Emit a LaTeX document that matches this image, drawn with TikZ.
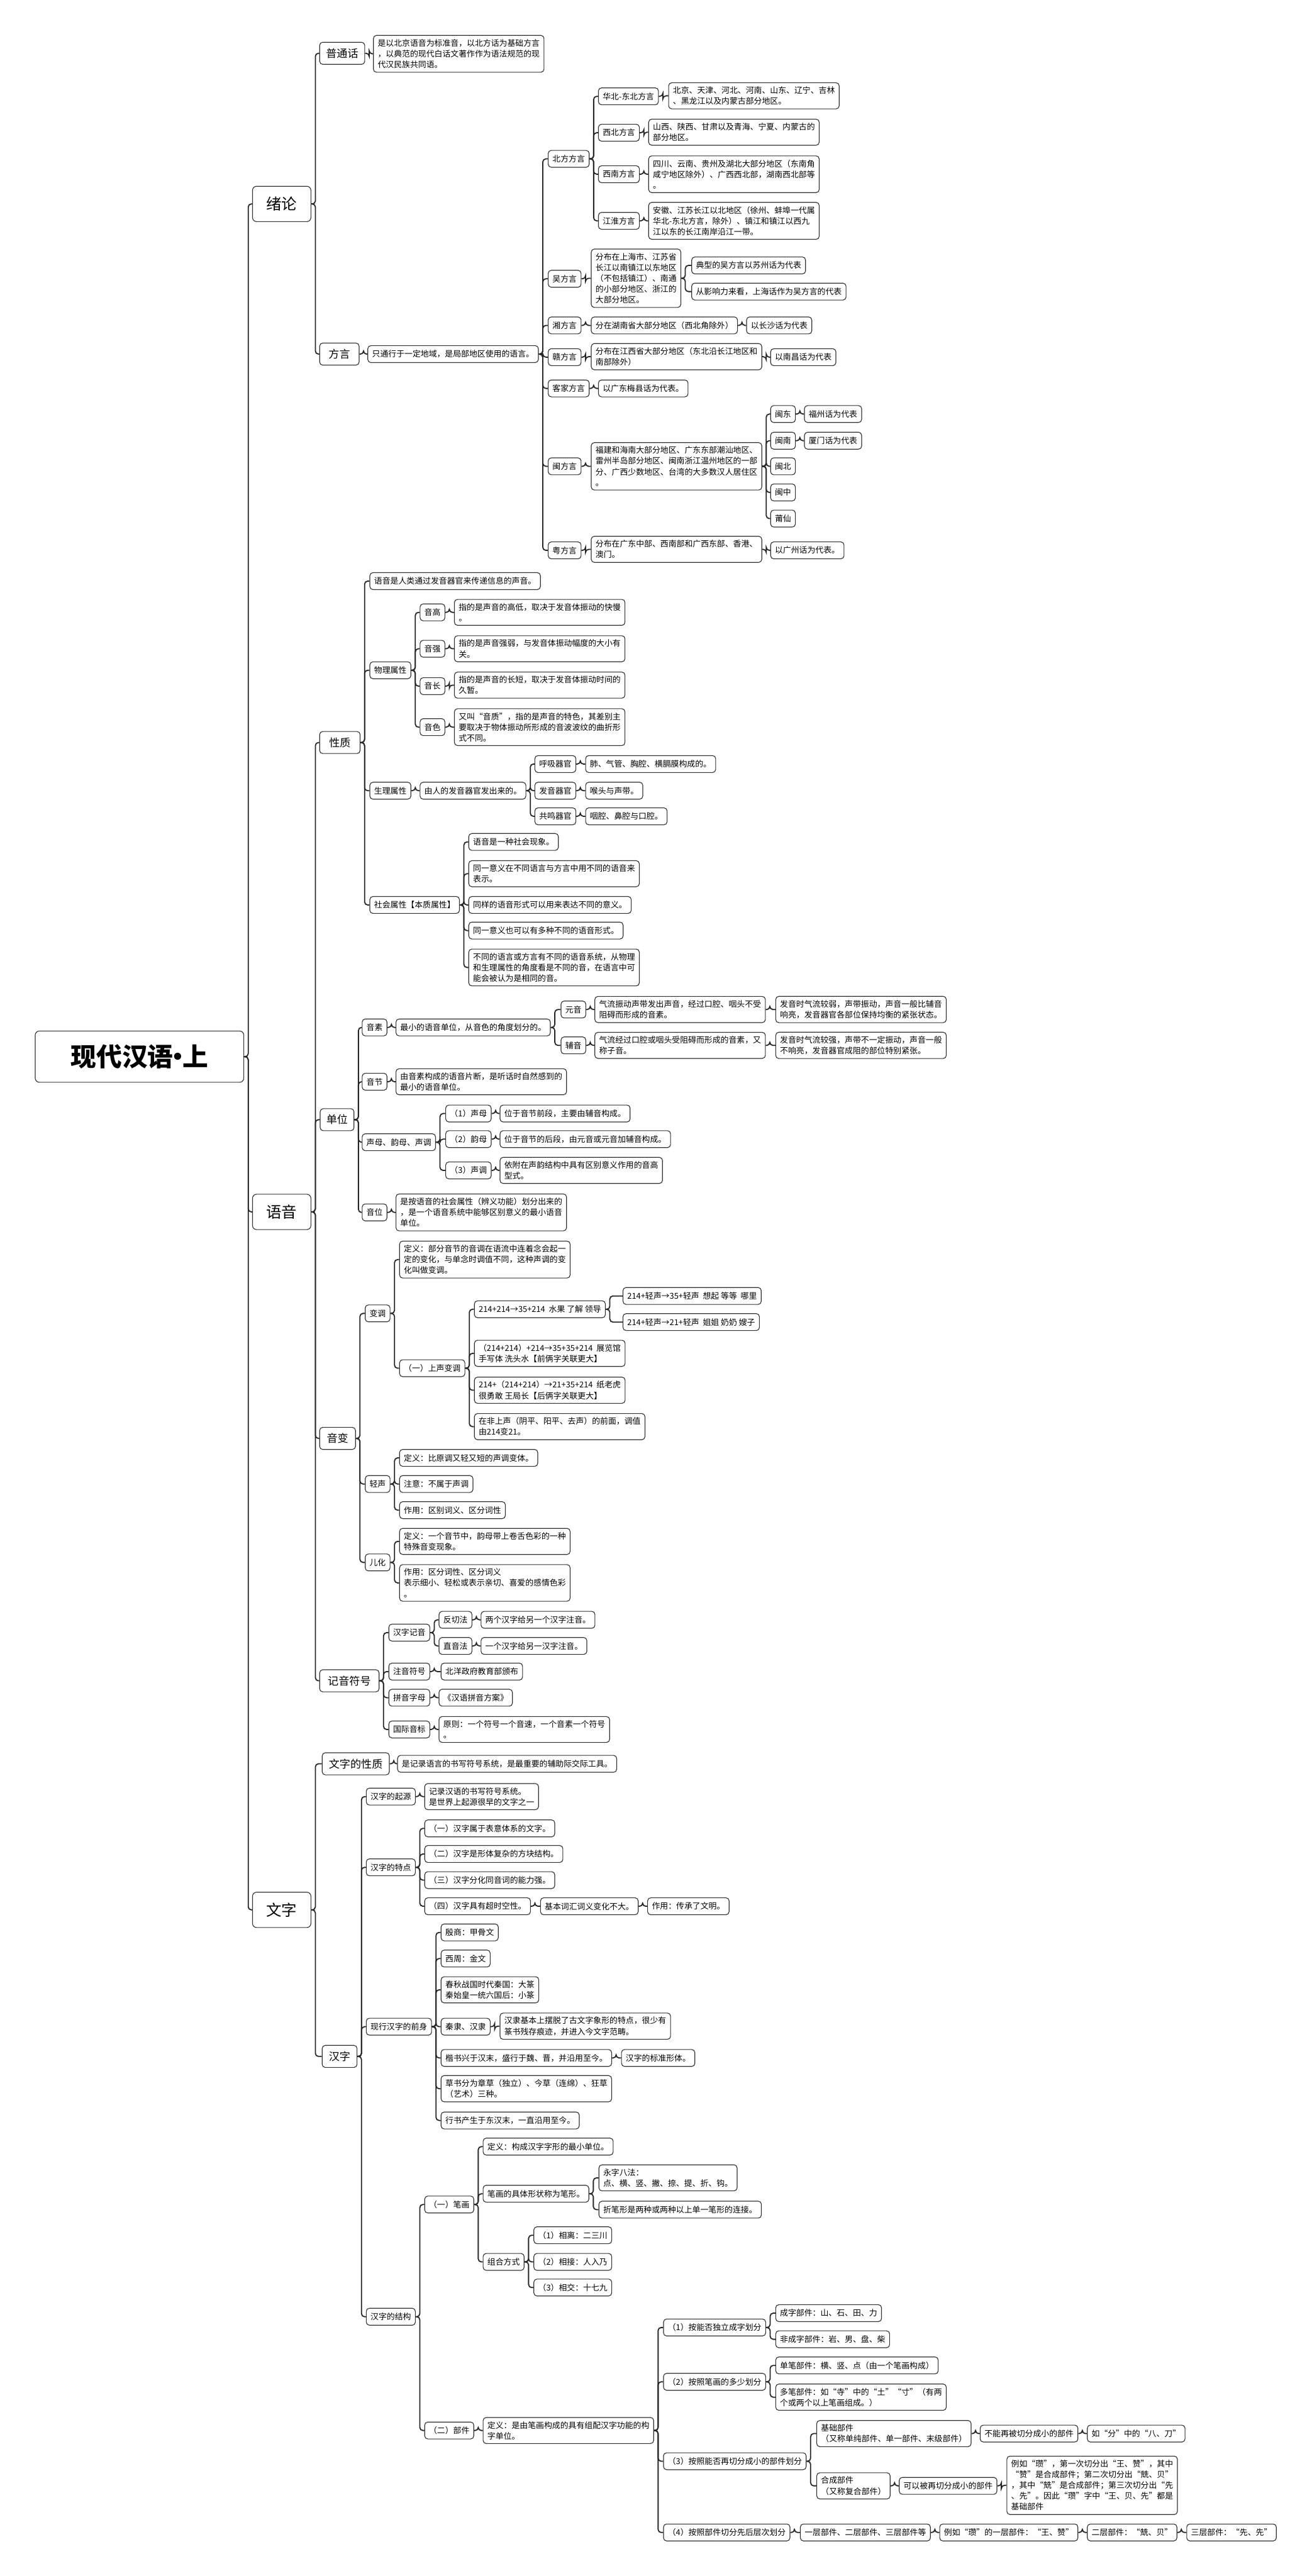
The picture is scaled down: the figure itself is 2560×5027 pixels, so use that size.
\documentclass[tikz,border=0pt]{standalone}
\usepackage{fontspec}
\setmainfont{Noto Sans CJK SC}
\usepackage{tikz}

\begin{document}
\begin{tikzpicture}[x=0.5pt, y=-0.5pt,
	box/.style={draw=black!80, line width=0.7pt, rounded corners=3pt, anchor=west, align=left, inner xsep=4.2pt, inner ysep=3.8pt, minimum height=16.5pt, font=\fontsize{7.9}{10.5}\selectfont},
	sub/.style={box, align=center, minimum height=21.5pt, font=\fontsize{10.5}{12}\selectfont},
	main/.style={box, align=center, rounded corners=4pt, minimum width=57pt, minimum height=34.5pt, font=\fontsize{15}{18}\selectfont},
	root/.style={box, align=center, rounded corners=4pt, minimum width=203.5pt, minimum height=50pt, font=\fontsize{25}{30}\selectfont\bfseries},
	branch/.style={draw=black!85, line width=1.1pt, rounded corners=3pt, to path={(\tikztostart.east) -- ++(4pt,0) |- (\tikztotarget.west)}}]
	
	\useasboundingbox (0,0) rectangle (2560,5027);
	
	\node[root] (hy) at (68, 2062) {现代汉语\kern-0.32em•\kern-0.32em上};
	
	\node[main] (xl) at (492, 398)  {绪论};
	\node[main] (yy) at (492, 2365) {语音};
	\node[main] (wz) at (492, 3727) {文字};
	
	\node[sub, minimum width=44pt] (ptl) at (623, 104) {普通话};
	\node[box] (ptlt) at (728, 105) {是以北京语音为标准音，以北方话为基础方言\\，以典范的现代白话文著作作为语法规范的现\\代汉民族共同语。};
	\node[sub, minimum width=38.5pt] (fy) at (623, 691) {方言};
	\node[box] (fyt) at (717, 691) {只通行于一定地域，是局部地区使用的语言。};
	
	\node[box] (bf) at (1069, 310) {北方方言};
	\node[box] (hb) at (1167, 188) {华北-东北方言};
	\node[box] (hbt) at (1304, 187) {北京、天津、河北、河南、山东、辽宁、吉林\\、黑龙江以及内蒙古部分地区。};
	\node[box] (xb) at (1167, 259) {西北方言};
	\node[box] (xbt) at (1265, 258) {山西、陕西、甘肃以及青海、宁夏、内蒙古的\\部分地区。};
	\node[box] (xn) at (1167, 340) {西南方言};
	\node[box] (xnt) at (1265, 340) {四川、云南、贵州及湖北大部分地区（东南角\\咸宁地区除外）、广西西北部，湖南西北部等\\。};
	\node[box] (jh) at (1167, 431) {江淮方言};
	\node[box] (jht) at (1265, 431) {安徽、江苏长江以北地区（徐州、蚌埠一代属\\华北-东北方言，除外）、镇江和镇江以西九\\江以东的长江南岸沿江一带。};
	\node[box] (wu) at (1069, 544) {吴方言};
	\node[box] (wut) at (1153, 543) {分布在上海市、江苏省\\长江以南镇江以东地区\\（不包括镇江）、南通\\的小部分地区、浙江的\\大部分地区。};
	\node[box] (wua) at (1349, 518) {典型的吴方言以苏州话为代表};
	\node[box] (wub) at (1349, 569) {从影响力来看，上海话作为吴方言的代表};
	\node[box] (xi) at (1069, 635) {湘方言};
	\node[box] (xit) at (1153, 635) {分在湖南省大部分地区（西北角除外）};
	\node[box] (xia) at (1456, 635) {以长沙话为代表};
	\node[box] (gan) at (1069, 697) {赣方言};
	\node[box] (gant) at (1153, 696) {分布在江西省大部分地区（东北沿长江地区和\\南部除外）};
	\node[box] (gana) at (1503, 697) {以南昌话为代表};
	\node[box] (kj) at (1069, 758) {客家方言};
	\node[box] (kjt) at (1167, 758) {以广东梅县话为代表。};
	\node[box] (min) at (1069, 910) {闽方言};
	\node[box] (mint) at (1153, 910) {福建和海南大部分地区、广东东部潮汕地区、\\雷州半岛部分地区、闽南浙江温州地区的一部\\分、广西少数地区、台湾的大多数汉人居住区\\。};
	\node[box] (md) at (1503, 808) {闽东};
	\node[box] (mdt) at (1569, 808) {福州话为代表};
	\node[box] (mn) at (1503, 860) {闽南};
	\node[box] (mnt) at (1569, 860) {厦门话为代表};
	\node[box] (mb) at (1503, 910) {闽北};
	\node[box] (mz) at (1503, 961) {闽中};
	\node[box] (px) at (1503, 1012) {莆仙};
	\node[box] (yue) at (1069, 1074) {粤方言};
	\node[box] (yuet) at (1153, 1072) {分布在广东中部、西南部和广西东部、香港、\\澳门。};
	\node[box] (yuea) at (1503, 1074) {以广州话为代表。};
	
	\node[sub, minimum width=39.5pt] (xz) at (623, 1449) {性质};
	\node[box] (xza) at (721, 1134) {语音是人类通过发音器官来传递信息的声音。};
	\node[box] (wl) at (721, 1308) {物理属性};
	\node[box] (yg) at (819, 1195) {音高};
	\node[box] (ygt) at (886, 1195) {指的是声音的高低，取决于发音体振动的快慢\\。};
	\node[box] (yq) at (819, 1266) {音强};
	\node[box] (yqt) at (886, 1266) {指的是声音强弱，与发音体振动幅度的大小有\\关。};
	\node[box] (yc) at (819, 1339) {音长};
	\node[box] (yct) at (886, 1337) {指的是声音的长短，取决于发音体振动时间的\\久暂。};
	\node[box] (ys) at (819, 1419) {音色};
	\node[box] (yst) at (886, 1419) {又叫“音质”，指的是声音的特色，其差别主\\要取决于物体振动所形成的音波波纹的曲折形\\式不同。};
	\node[box] (sl) at (721, 1543) {生理属性};
	\node[box] (slt) at (819, 1543) {由人的发音器官发出来的。};
	\node[box] (hx) at (1043, 1491) {呼吸器官};
	\node[box] (hxt) at (1142, 1491) {肺、气管、胸腔、横膈膜构成的。};
	\node[box] (fq) at (1043, 1543) {发音器官};
	\node[box] (fqt) at (1142, 1543) {喉头与声带。};
	\node[box] (gm) at (1043, 1593) {共鸣器官};
	\node[box] (gmt) at (1142, 1593) {咽腔、鼻腔与口腔。};
	\node[box] (sh) at (721, 1766) {社会属性【本质属性】};
	\node[box] (sha) at (914, 1643) {语音是一种社会现象。};
	\node[box] (shb) at (914, 1705) {同一意义在不同语言与方言中用不同的语音来\\表示。};
	\node[box] (shc) at (914, 1766) {同样的语音形式可以用来表达不同的意义。};
	\node[box] (shd) at (914, 1816) {同一意义也可以有多种不同的语音形式。};
	\node[box] (she) at (914, 1888) {不同的语言或方言有不同的语音系统，从物理\\和生理属性的角度看是不同的音，在语言中可\\能会被认为是相同的音。};
	
	\node[sub, minimum width=33pt] (dw) at (624, 2185) {单位};
	\node[box] (ysu) at (706, 2005) {音素};
	\node[box] (ysut) at (772, 2005) {最小的语音单位，从音色的角度划分的。};
	\node[box] (vow) at (1094, 1970) {元音};
	\node[box] (vowt) at (1160, 1970) {气流振动声带发出声音，经过口腔、咽头不受\\阻碍而形成的音素。};
	\node[box] (vowf) at (1513, 1970) {发音时气流较弱，声带振动，声音一般比辅音\\响亮，发音器官各部位保持均衡的紧张状态。};
	\node[box] (con) at (1094, 2040) {辅音};
	\node[box] (cont) at (1160, 2040) {气流经过口腔或咽头受阻碍而形成的音素，又\\称子音。};
	\node[box] (conf) at (1513, 2040) {发音时气流较强，声带不一定振动，声音一般\\不响亮，发音器官成阻的部位特别紧张。};
	\node[box] (yj) at (706, 2111) {音节};
	\node[box] (yjt) at (772, 2111) {由音素构成的语音片断，是听话时自然感到的\\最小的语音单位。};
	\node[box] (smy) at (706, 2229) {声母、韵母、声调};
	\node[box] (sm) at (869, 2173) {（1）声母};
	\node[box] (smt) at (975, 2173) {位于音节前段，主要由辅音构成。};
	\node[box] (ym) at (869, 2223) {（2）韵母};
	\node[box] (ymt) at (975, 2223) {位于音节的后段，由元音或元音加辅音构成。};
	\node[box] (sd) at (869, 2284) {（3）声调};
	\node[box] (sdt) at (975, 2284) {依附在声韵结构中具有区别意义作用的音高\\型式。};
	\node[box] (yw) at (706, 2366) {音位};
	\node[box] (ywt) at (772, 2366) {是按语音的社会属性（辨义功能）划分出来的\\，是一个语音系统中能够区别意义的最小语音\\单位。};
	
	\node[sub, minimum width=35pt] (yb) at (623, 2807) {音变};
	\node[box] (bd) at (712, 2563) {变调};
	\node[box] (bdt) at (779, 2458) {定义：部分音节的音调在语流中连着念会起一\\定的变化，与单念时调值不同，这种声调的变\\化叫做变调。};
	\node[box] (ss) at (779, 2670) {（一）上声变调};
	\node[box] (ssa) at (925, 2555) {214+214→35+214 \ 水果 了解 领导};
	\node[box] (ssaa) at (1215, 2529) {214+轻声→35+轻声 \ 想起 等等 \ 哪里};
	\node[box] (ssab) at (1215, 2580) {214+轻声→21+轻声 \ 姐姐 奶奶 嫂子};
	\node[box] (ssb) at (925, 2641) {（214+214）+214→35+35+214 \ 展览馆\\手写体 洗头水【前俩字关联更大】};
	\node[box] (ssc) at (925, 2713) {214+（214+214）→21+35+214 \ 纸老虎\\很勇敢 王局长【后俩字关联更大】};
	\node[box] (ssd) at (925, 2784) {在非上声（阴平、阳平、去声）的前面，调值\\由214变21。};
	\node[box] (qs) at (712, 2896) {轻声};
	\node[box] (qsa) at (779, 2845) {定义：比原调又轻又短的声调变体。};
	\node[box] (qsb) at (779, 2896) {注意：不属于声调};
	\node[box] (qsc) at (779, 2947) {作用：区别词义、区分词性};
	\node[box] (eh) at (712, 3049) {儿化};
	\node[box] (eha) at (779, 3008) {定义：一个音节中，韵母带上卷舌色彩的一种\\特殊音变现象。};
	\node[box] (ehb) at (779, 3089) {作用：区分词性、区分词义\\表示细小、轻松或表示亲切、喜爱的感情色彩\\。};
	
	\node[sub, minimum width=58pt] (jy) at (623, 3280) {记音符号};
	\node[box] (hzj) at (758, 3186) {汉字记音};
	\node[box] (fqf) at (856, 3161) {反切法};
	\node[box] (fqft) at (938, 3161) {两个汉字给另一个汉字注音。};
	\node[box] (zyf) at (856, 3212) {直音法};
	\node[box] (zyft) at (938, 3212) {一个汉字给另一汉字注音。};
	\node[box] (zyfh) at (758, 3262) {注音符号};
	\node[box] (zyfht) at (860, 3262) {北洋政府教育部颁布};
	\node[box] (pyzm) at (758, 3313) {拼音字母};
	\node[box] (pyzmt) at (856, 3313) {《汉语拼音方案》};
	\node[box] (gjyb) at (758, 3375) {国际音标};
	\node[box] (gjybt) at (856, 3375) {原则：一个符号一个音速，一个音素一个符号\\。};
	
	\node[sub, minimum width=65.5pt] (wzxz) at (628, 3442) {文字的性质};
	\node[box] (wzxzt) at (775, 3442) {是记录语言的书写符号系统，是最重要的辅助际交际工具。};
	\node[sub, minimum width=34pt] (hz) at (628, 4013) {汉字};
	\node[box] (qy) at (714, 3506) {汉字的起源};
	\node[box] (qyt) at (828, 3506) {记录汉语的书写符号系统。\\是世界上起源很早的文字之一};
	\node[box] (td) at (714, 3644) {汉字的特点};
	\node[box] (tda) at (828, 3568) {（一）汉字属于表意体系的文字。};
	\node[box] (tdb) at (828, 3618) {（二）汉字是形体复杂的方块结构。};
	\node[box] (tdc) at (828, 3669) {（三）汉字分化同音词的能力强。};
	\node[box] (tdd) at (828, 3720) {（四）汉字具有超时空性。};
	\node[box] (tdda) at (1054, 3720) {基本词汇词义变化不大。};
	\node[box] (tddb) at (1263, 3720) {作用：传承了文明。};
	\node[box] (qs0) at (714, 3955) {现行汉字的前身};
	\node[box] (pa) at (860, 3771) {殷商：甲骨文};
	\node[box] (pb) at (860, 3822) {西周：金文};
	\node[box] (pc) at (860, 3883) {春秋战国时代秦国：大篆\\秦始皇一统六国后：小篆};
	\node[box] (pd) at (860, 3955) {秦隶、汉隶};
	\node[box] (pdt) at (975, 3954) {汉隶基本上摆脱了古文字象形的特点，很少有\\篆书残存痕迹，并进入今文字范畴。};
	\node[box] (pe) at (860, 4016) {楷书兴于汉末，盛行于魏、晋，并沿用至今。};
	\node[box] (pet) at (1212, 4016) {汉字的标准形体。};
	\node[box] (pf) at (860, 4076) {草书分为章草（独立）、今草（连绵）、狂草\\（艺术）三种。};
	\node[box] (pg) at (860, 4138) {行书产生于东汉末，一直沿用至今。};
	\node[box] (jg) at (714, 4521) {汉字的结构};
	\node[box] (bh) at (828, 4302) {（一）笔画};
	\node[box] (bha) at (942, 4189) {定义：构成汉字字形的最小单位。};
	\node[box] (bhb) at (942, 4281) {笔画的具体形状称为笔形。};
	\node[box] (bhba) at (1168, 4250) {永字八法：\\点、横、竖、撇、捺、提、折、钩。};
	\node[box] (bhbb) at (1168, 4312) {折笔形是两种或两种以上单一笔形的连接。};
	\node[box] (zh) at (942, 4414) {组合方式};
	\node[box] (zha) at (1041, 4362) {（1）相离：二三川};
	\node[box] (zhb) at (1041, 4414) {（2）相接：人入乃};
	\node[box] (zhc) at (1041, 4464) {（3）相交：十七九};
	\node[box] (bj) at (828, 4743) {（二）部件};
	\node[box] (bjt) at (942, 4743) {定义：是由笔画构成的具有组配汉字功能的构\\字单位。};
	\node[box] (bja) at (1294, 4542) {（1）按能否独立成字划分};
	\node[box] (bjaa) at (1513, 4514) {成字部件：山、石、田、力};
	\node[box] (bjab) at (1513, 4565) {非成字部件：岩、男、盘、柴};
	\node[box] (bjb) at (1294, 4648) {（2）按照笔画的多少划分};
	\node[box] (bjba) at (1513, 4616) {单笔部件：横、竖、点（由一个笔画构成）};
	\node[box] (bjbb) at (1513, 4678) {多笔部件：如“寺”中的“土”“寸”（有两\\个或两个以上笔画组成。）};
	\node[box] (bjc) at (1294, 4803) {（3）按照能否再切分成小的部件划分};
	\node[box] (bjca) at (1593, 4749) {基础部件\\（又称单纯部件、单一部件、末级部件）};
	\node[box] (bjcaa) at (1912, 4749) {不能再被切分成小的部件};
	\node[box] (bjcab) at (2121, 4749) {如“分”中的“八、刀”};
	\node[box] (bjcb) at (1593, 4851) {合成部件\\（又称复合部件）};
	\node[box] (bjcba) at (1754, 4851) {可以被再切分成小的部件};
	\node[box] (bjcbb) at (1964, 4850) {例如“瓒”，第一次切分出“王、赞”，其中\\“赞”是合成部件；第二次切分出“兟、贝”\\，其中“兟”是合成部件；第三次切分出“先\\、先”。因此“瓒”字中“王、贝、先”都是\\基础部件};
	\node[box] (bjd) at (1294, 4942) {（4）按照部件切分先后层次划分};
	\node[box] (bjda) at (1561, 4942) {一层部件、二层部件、三层部件等};
	\node[box] (bjdb) at (1833, 4942) {例如“瓒”的一层部件：“王、赞”};
	\node[box] (bjdc) at (2121, 4942) {二层部件：“兟、贝”};
	\node[box] (bjdd) at (2315, 4942) {三层部件：“先、先”};
	
	\path[branch] (hy) edge (xl);
	\path[branch] (hy) edge (yy);
	\path[branch] (hy) edge (wz);
	
	\path[branch] (xl) edge (ptl);
	\path[branch] (xl) edge (fy);
	\path[branch] (ptl) edge (ptlt);
	\path[branch] (fy) edge (fyt);
	\path[branch] (fyt) edge (bf);
	\path[branch] (fyt) edge (wu);
	\path[branch] (fyt) edge (xi);
	\path[branch] (fyt) edge (gan);
	\path[branch] (fyt) edge (kj);
	\path[branch] (fyt) edge (min);
	\path[branch] (fyt) edge (yue);
	\path[branch] (bf) edge (hb);
	\path[branch] (bf) edge (xb);
	\path[branch] (bf) edge (xn);
	\path[branch] (bf) edge (jh);
	\path[branch] (hb) edge (hbt);
	\path[branch] (xb) edge (xbt);
	\path[branch] (xn) edge (xnt);
	\path[branch] (jh) edge (jht);
	\path[branch] (wu) edge (wut);
	\path[branch] (wut) edge (wua);
	\path[branch] (wut) edge (wub);
	\path[branch] (xi) edge (xit);
	\path[branch] (xit) edge (xia);
	\path[branch] (gan) edge (gant);
	\path[branch] (gant) edge (gana);
	\path[branch] (kj) edge (kjt);
	\path[branch] (min) edge (mint);
	\path[branch] (mint) edge (md);
	\path[branch] (mint) edge (mn);
	\path[branch] (mint) edge (mb);
	\path[branch] (mint) edge (mz);
	\path[branch] (mint) edge (px);
	\path[branch] (md) edge (mdt);
	\path[branch] (mn) edge (mnt);
	\path[branch] (yue) edge (yuet);
	\path[branch] (yuet) edge (yuea);
	
	\path[branch] (yy) edge (xz);
	\path[branch] (yy) edge (dw);
	\path[branch] (yy) edge (yb);
	\path[branch] (yy) edge (jy);
	\path[branch] (xz) edge (xza);
	\path[branch] (xz) edge (wl);
	\path[branch] (xz) edge (sl);
	\path[branch] (xz) edge (sh);
	\path[branch] (wl) edge (yg);
	\path[branch] (wl) edge (yq);
	\path[branch] (wl) edge (yc);
	\path[branch] (wl) edge (ys);
	\path[branch] (yg) edge (ygt);
	\path[branch] (yq) edge (yqt);
	\path[branch] (yc) edge (yct);
	\path[branch] (ys) edge (yst);
	\path[branch] (sl) edge (slt);
	\path[branch] (slt) edge (hx);
	\path[branch] (slt) edge (fq);
	\path[branch] (slt) edge (gm);
	\path[branch] (hx) edge (hxt);
	\path[branch] (fq) edge (fqt);
	\path[branch] (gm) edge (gmt);
	\path[branch] (sh) edge (sha);
	\path[branch] (sh) edge (shb);
	\path[branch] (sh) edge (shc);
	\path[branch] (sh) edge (shd);
	\path[branch] (sh) edge (she);
	
	\path[branch] (dw) edge (ysu);
	\path[branch] (dw) edge (yj);
	\path[branch] (dw) edge (smy);
	\path[branch] (dw) edge (yw);
	\path[branch] (ysu) edge (ysut);
	\path[branch] (ysut) edge (vow);
	\path[branch] (ysut) edge (con);
	\path[branch] (vow) edge (vowt);
	\path[branch] (vowt) edge (vowf);
	\path[branch] (con) edge (cont);
	\path[branch] (cont) edge (conf);
	\path[branch] (yj) edge (yjt);
	\path[branch] (smy) edge (sm);
	\path[branch] (smy) edge (ym);
	\path[branch] (smy) edge (sd);
	\path[branch] (sm) edge (smt);
	\path[branch] (ym) edge (ymt);
	\path[branch] (sd) edge (sdt);
	\path[branch] (yw) edge (ywt);
	
	\path[branch] (yb) edge (bd);
	\path[branch] (yb) edge (qs);
	\path[branch] (yb) edge (eh);
	\path[branch] (bd) edge (bdt);
	\path[branch] (bd) edge (ss);
	\path[branch] (ss) edge (ssa);
	\path[branch] (ss) edge (ssb);
	\path[branch] (ss) edge (ssc);
	\path[branch] (ss) edge (ssd);
	\path[branch] (ssa) edge (ssaa);
	\path[branch] (ssa) edge (ssab);
	\path[branch] (qs) edge (qsa);
	\path[branch] (qs) edge (qsb);
	\path[branch] (qs) edge (qsc);
	\path[branch] (eh) edge (eha);
	\path[branch] (eh) edge (ehb);
	
	\path[branch] (jy) edge (hzj);
	\path[branch] (jy) edge (zyfh);
	\path[branch] (jy) edge (pyzm);
	\path[branch] (jy) edge (gjyb);
	\path[branch] (hzj) edge (fqf);
	\path[branch] (hzj) edge (zyf);
	\path[branch] (fqf) edge (fqft);
	\path[branch] (zyf) edge (zyft);
	\path[branch] (zyfh) edge (zyfht);
	\path[branch] (pyzm) edge (pyzmt);
	\path[branch] (gjyb) edge (gjybt);
	
	\path[branch] (wz) edge (wzxz);
	\path[branch] (wz) edge (hz);
	\path[branch] (wzxz) edge (wzxzt);
	\path[branch] (hz) edge (qy);
	\path[branch] (hz) edge (td);
	\path[branch] (hz) edge (qs0);
	\path[branch] (hz) edge (jg);
	\path[branch] (qy) edge (qyt);
	\path[branch] (td) edge (tda);
	\path[branch] (td) edge (tdb);
	\path[branch] (td) edge (tdc);
	\path[branch] (td) edge (tdd);
	\path[branch] (tdd) edge (tdda);
	\path[branch] (tdda) edge (tddb);
	\path[branch] (qs0) edge (pa);
	\path[branch] (qs0) edge (pb);
	\path[branch] (qs0) edge (pc);
	\path[branch] (qs0) edge (pd);
	\path[branch] (qs0) edge (pe);
	\path[branch] (qs0) edge (pf);
	\path[branch] (qs0) edge (pg);
	\path[branch] (pd) edge (pdt);
	\path[branch] (pe) edge (pet);
	\path[branch] (jg) edge (bh);
	\path[branch] (jg) edge (bj);
	\path[branch] (bh) edge (bha);
	\path[branch] (bh) edge (bhb);
	\path[branch] (bh) edge (zh);
	\path[branch] (bhb) edge (bhba);
	\path[branch] (bhb) edge (bhbb);
	\path[branch] (zh) edge (zha);
	\path[branch] (zh) edge (zhb);
	\path[branch] (zh) edge (zhc);
	\path[branch] (bj) edge (bjt);
	\path[branch] (bjt) edge (bja);
	\path[branch] (bjt) edge (bjb);
	\path[branch] (bjt) edge (bjc);
	\path[branch] (bjt) edge (bjd);
	\path[branch] (bja) edge (bjaa);
	\path[branch] (bja) edge (bjab);
	\path[branch] (bjb) edge (bjba);
	\path[branch] (bjb) edge (bjbb);
	\path[branch] (bjc) edge (bjca);
	\path[branch] (bjc) edge (bjcb);
	\path[branch] (bjca) edge (bjcaa);
	\path[branch] (bjcaa) edge (bjcab);
	\path[branch] (bjcb) edge (bjcba);
	\path[branch] (bjcba) edge (bjcbb);
	\path[branch] (bjd) edge (bjda);
	\path[branch] (bjda) edge (bjdb);
	\path[branch] (bjdb) edge (bjdc);
	\path[branch] (bjdc) edge (bjdd);
	
\end{tikzpicture}
\end{document}
